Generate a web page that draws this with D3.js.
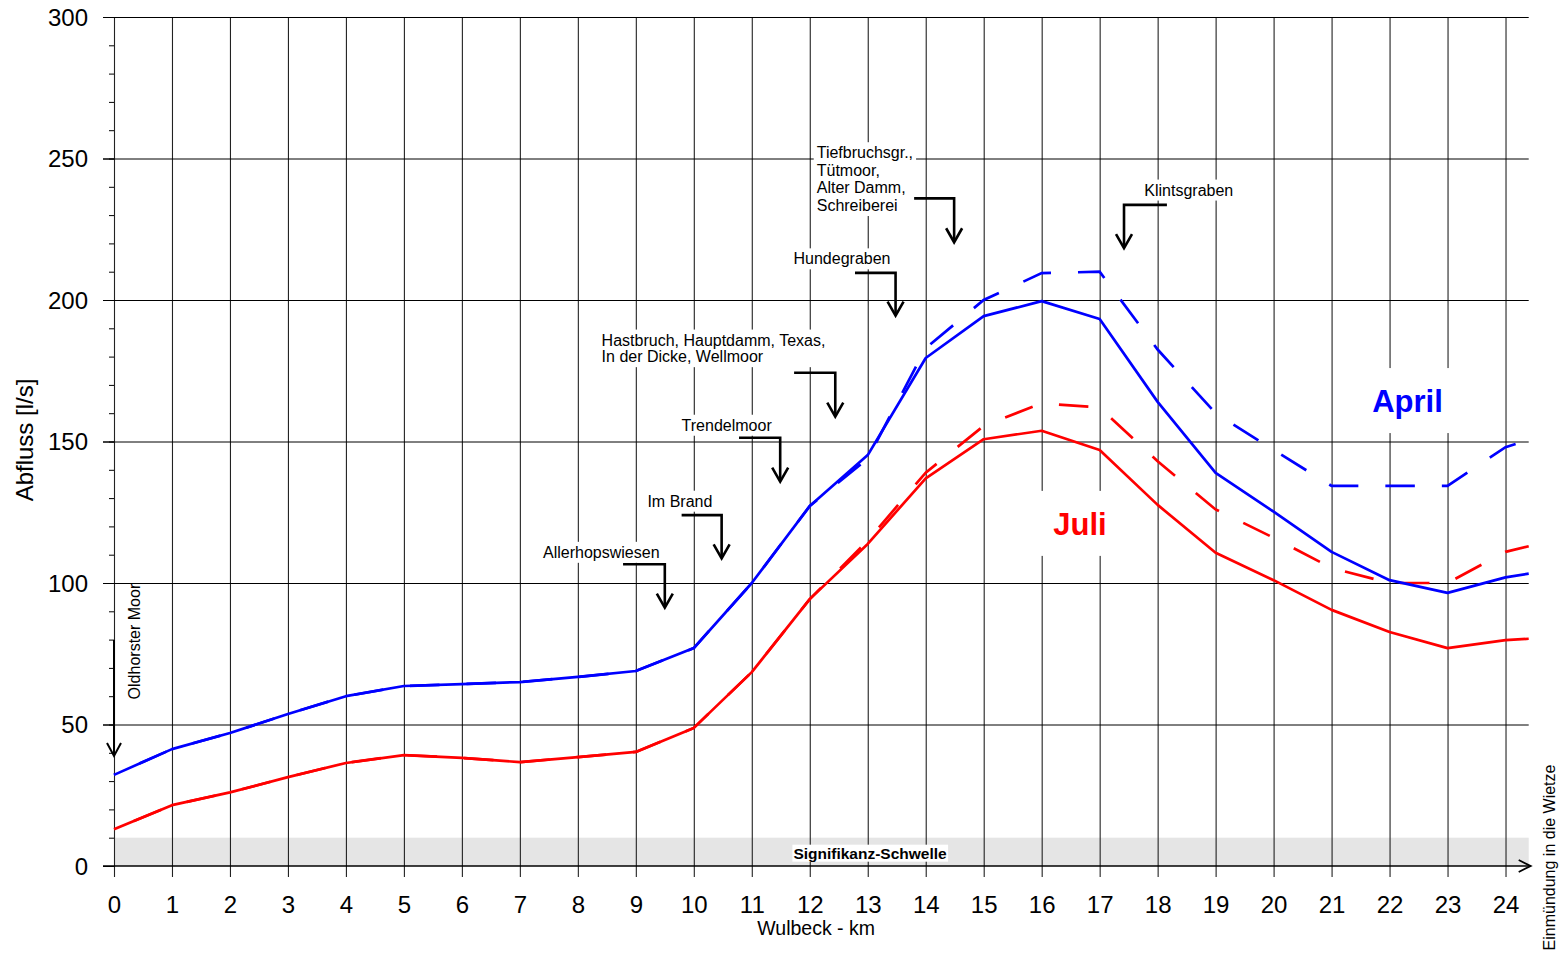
<!DOCTYPE html>
<html><head><meta charset="utf-8">
<script src="https://cdn.jsdelivr.net/npm/d3@7"></script>
<style>
body{margin:0;background:#fff}
svg{display:block}
text{font-family:"Liberation Sans",Arial,Helvetica,sans-serif}
</style>
</head><body>
<svg id="chart" width="1560" height="953"></svg>
<script>
// ---------------- data ----------------
const km = [0,1,2,3,4,5,6,7,8,9,10,11,12,13,14,15,16,17,18,19,20,21,22,23,24,24.4];
const aprilSolid  = [32.2,41.3,47,53.7,60,63.6,64.3,65,66.8,68.9,77,100,127.2,145.2,179.5,194.3,199.6,193.3,164,138.9,125.2,111,101,96.5,102,103.3];
const aprilDashed = [32.2,41.3,47,53.7,60,63.6,64.3,65,66.8,68.9,77,100,127.2,144,183,200,209.5,210,182.5,160,147,134.3,134.3,134.3,148,150.5];
const juliSolid   = [13,21.5,26,31.4,36.4,39.2,38.2,36.7,38.5,40.3,48.8,68.5,94.3,113.8,137,150.8,153.8,147,127.6,110.7,101,90.5,82.7,77,79.8,80.3];
const juliDashed  = [13,21.5,26,31.4,36.4,39.2,38.2,36.7,38.5,40.3,48.8,68.5,94.3,115,139,155.5,163.5,162,143,126,116,105.3,100,100,111,113];
const xTicks = [0,1,2,3,4,5,6,7,8,9,10,11,12,13,14,15,16,17,18,19,20,21,22,23,24];
const yTicks = [0,50,100,150,200,250,300];
const yMinorTicks = d3.range(0, 301, 10);
const significanceThreshold = 10;
const xTitle = "Wulbeck - km";
const xTitleKm = 12.11;
const yTitle = "Abfluss [l/s]";
const bandLabel = "Signifikanz-Schwelle";
const bandLabelPos = [13.04, 4.5];
const seriesLabels = ["April", "Juli"];
const seriesLabelPos = [[22.31, 160.4], [16.66, 117.0]];
// km where a dash of each dashed series begins (phase of the dash pattern)
const dashAnchorKm = { april: 20.96, juli: 22.18 };
// annotations: text lines, text anchor (km, value of first baseline), arrow: start km, arrow km, elbow value, tip value
const annLabels = [
  ["Allerhopswiesen"],
  ["Im Brand"],
  ["Trendelmoor"],
  ["Hastbruch, Hauptdamm, Texas,", "In der Dicke, Wellmoor"],
  ["Hundegraben"],
  ["Tiefbruchsgr.,", "Tütmoor,", "Alter Damm,", "Schreiberei"],
  ["Klintsgraben"]
];
const annTextKm   = [7.40, 9.20, 9.79, 8.41, 11.72, 12.12, 17.77];
const annTextVal  = [108.9, 126.96, 153.8, 183.9, 212.6, 250.1, 236.9];
const annStartKm  = [8.78, 9.79, 10.78, 11.73, 12.78, 13.80, 18.16];
const annArrowKm  = [9.5, 10.48, 11.49, 12.44, 13.48, 14.49, 17.42];
const annElbowVal = [106.6, 124.0, 151.3, 174.3, 209.6, 235.9, 233.6];
const annTipVal   = [91.3, 108.7, 135.8, 158.8, 194.5, 220.4, 218.3];
const sourceLabel = "Oldhorster Moor";
const sourceArrow = [0, 79.9, 38.9];   // km, from value, tip value
const sourceLabelPos = [0.448, 79.3];
const mouthLabel = "Einmündung in die Wietze";
const mouthLabelPos = [24.85, 3];

// ---------------- scales ----------------
const svg = d3.select("#chart");
const x = d3.scaleLinear().domain([0, 24.4]).range([114, 114 + 24.4 * 57.98]);
const y = d3.scaleLinear().domain([0, 300]).range([866, 17]);
const x0 = x(0), x1 = x(24.4), yTop = y(300), yBot = y(0);
const FONT = '"Liberation Sans",Arial,Helvetica,sans-serif';

// significance band
svg.append("rect")
  .attr("x", x0).attr("y", y(significanceThreshold))
  .attr("width", x1 - x0).attr("height", y(0) - y(significanceThreshold))
  .attr("fill", "#e5e5e5");

// vertical gridlines (incl. y-axis line), extending below the x-axis
const gx = svg.append("g").attr("transform", `translate(0,${yBot})`)
  .call(d3.axisBottom(x).tickValues(xTicks).tickSize(-(yBot - yTop)).tickFormat(""));
gx.select(".domain").remove();
gx.selectAll(".tick line").attr("y1", 11).attr("stroke", "#222").attr("stroke-width", 1.1);

// horizontal gridlines
const gy = svg.append("g").attr("transform", `translate(${x0},0)`)
  .call(d3.axisLeft(y).tickValues(yTicks.filter(v => v > 0)).tickSize(-(x1 - x0)).tickFormat(""));
gy.select(".domain").remove();
gy.selectAll(".tick line").attr("x1", -11).attr("stroke", "#000").attr("stroke-width", 1);

// minor ticks
const gm = svg.append("g").attr("transform", `translate(${x0},0)`)
  .call(d3.axisLeft(y).tickValues(yMinorTicks).tickSize(5).tickFormat(""));
gm.select(".domain").remove();
gm.selectAll(".tick line").attr("stroke", "#000");

// y tick labels
const yl = svg.append("g").attr("transform", `translate(${x0},0)`)
  .call(d3.axisLeft(y).tickValues(yTicks).tickSize(11).tickPadding(15));
yl.select(".domain").remove();
yl.selectAll(".tick line").attr("stroke", "#000");
yl.selectAll("text").attr("font-family", FONT).attr("font-size", 24).attr("fill", "#000").attr("dy", "0.35em");

// x tick labels
const xl = svg.append("g").attr("transform", `translate(0,${yBot})`)
  .call(d3.axisBottom(x).tickValues(xTicks).tickSize(0).tickPadding(30.3));
xl.select(".domain").remove();
xl.selectAll("text").attr("font-family", FONT).attr("font-size", 24).attr("fill", "#000").attr("dy", "0.71em");

// x axis line with arrow
svg.append("line").attr("x1", x0 - 11).attr("x2", x1 + 2).attr("y1", yBot).attr("y2", yBot)
  .attr("stroke", "#000").attr("stroke-width", 1.3);
svg.append("path")
  .attr("d", `M${x1 - 10},${yBot - 6}L${x1 + 2},${yBot}L${x1 - 10},${yBot + 6}`)
  .attr("fill", "none").attr("stroke", "#000").attr("stroke-width", 1.8);

// helper for white label boxes
function boxedText(g, t, pad) {
  const bb = t.node().getBBox();
  g.insert("rect", "text")
    .attr("x", bb.x - pad[3]).attr("y", bb.y - pad[0])
    .attr("width", bb.width + pad[1] + pad[3]).attr("height", bb.height + pad[0] + pad[2])
    .attr("fill", "#fff");
}
{
  const g = svg.append("g");
  const t = g.append("text").attr("x", x(bandLabelPos[0])).attr("y", y(bandLabelPos[1]))
    .attr("dy", "0.35em").attr("text-anchor", "middle")
    .attr("font-size", 15.5).attr("font-weight", "bold").text(bandLabel);
  boxedText(g, t, [0, 1, 0, 1]);
}

// data lines
const line = d3.line().x((d, i) => x(km[i])).y(d => y(d));
const DASH = [29.5, 27], PERIOD = DASH[0] + DASH[1];
function lengthAtX(node, tx) {
  let lo = 0, hi = node.getTotalLength();
  for (let k = 0; k < 40; k++) {
    const mid = (lo + hi) / 2;
    if (node.getPointAtLength(mid).x < tx) lo = mid; else hi = mid;
  }
  return (lo + hi) / 2;
}
function dashed(data, color, anchorKm) {
  const p = svg.append("path").datum(data).attr("d", line).attr("fill", "none")
    .attr("stroke", color).attr("stroke-width", 2.7).attr("stroke-dasharray", DASH.join(","));
  const L = lengthAtX(p.node(), x(anchorKm));
  const off = ((-L % PERIOD) + PERIOD) % PERIOD;
  p.attr("stroke-dashoffset", off);
}
dashed(aprilDashed, "#0000ff", dashAnchorKm.april);
dashed(juliDashed, "#ff0000", dashAnchorKm.juli);
svg.append("path").datum(juliSolid).attr("d", line).attr("fill", "none")
  .attr("stroke", "#ff0000").attr("stroke-width", 2.7).attr("stroke-linejoin", "round");
svg.append("path").datum(aprilSolid).attr("d", line).attr("fill", "none")
  .attr("stroke", "#0000ff").attr("stroke-width", 2.7).attr("stroke-linejoin", "round");

// series labels
const seriesColors = ["#0000ff", "#ff0000"];
seriesLabels.forEach((lab, i) => {
  const g = svg.append("g");
  const t = g.append("text").attr("x", x(seriesLabelPos[i][0])).attr("y", y(seriesLabelPos[i][1]))
    .attr("text-anchor", "middle").attr("font-size", 31).attr("font-weight", "bold")
    .attr("fill", seriesColors[i]).text(lab);
  boxedText(g, t, [16, 14, 14, 14]);
});

// annotations
annLabels.forEach((lines, i) => {
  const g = svg.append("g");
  const lh = lines.length > 2 ? 17.6 : 16.6;
  const t = g.append("text").attr("font-size", 16).attr("fill", "#000");
  lines.forEach((ln, j) => {
    t.append("tspan").attr("x", x(annTextKm[i])).attr("y", y(annTextVal[i]) + j * lh).text(ln);
  });
  boxedText(g, t, [2, 3, 2, 3]);
  const ax = x(annArrowKm[i]), ey = y(annElbowVal[i]), ty = y(annTipVal[i]);
  svg.append("path").attr("d", `M${x(annStartKm[i])},${ey}H${ax}V${ty - 1}`)
    .attr("fill", "none").attr("stroke", "#000").attr("stroke-width", 2.6);
  svg.append("path").attr("d", `M${ax - 8},${ty - 14}L${ax},${ty}L${ax + 8},${ty - 14}`)
    .attr("fill", "none").attr("stroke", "#000").attr("stroke-width", 2.6);
});

// source arrow (Oldhorster Moor)
{
  const ax = x(sourceArrow[0]), fy = y(sourceArrow[1]), ty = y(sourceArrow[2]);
  svg.append("line").attr("x1", ax).attr("x2", ax).attr("y1", fy).attr("y2", ty - 1)
    .attr("stroke", "#000").attr("stroke-width", 2);
  svg.append("path").attr("d", `M${ax - 7},${ty - 13}L${ax},${ty}L${ax + 7},${ty - 13}`)
    .attr("fill", "none").attr("stroke", "#000").attr("stroke-width", 2);
  const px = x(sourceLabelPos[0]), py = y(sourceLabelPos[1]);
  svg.append("text").attr("transform", `translate(${px},${py}) rotate(-90)`)
    .attr("text-anchor", "middle").attr("font-size", 16).text(sourceLabel);
}
// mouth label
{
  const px = x(mouthLabelPos[0]), py = y(mouthLabelPos[1]);
  svg.append("text").attr("transform", `translate(${px},${py}) rotate(-90)`)
    .attr("text-anchor", "middle").attr("font-size", 16).text(mouthLabel);
}

// axis titles
svg.append("text").attr("transform", `translate(33,440) rotate(-90)`)
  .attr("text-anchor", "middle").attr("font-size", 24).text(yTitle);
svg.append("text").attr("x", x(xTitleKm)).attr("y", 935)
  .attr("text-anchor", "middle").attr("font-size", 19.5).text(xTitle);
</script>
</body></html>
